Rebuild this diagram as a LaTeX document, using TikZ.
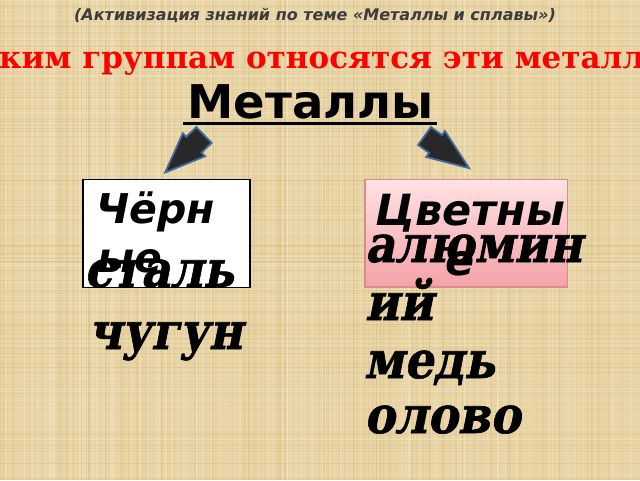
\documentclass[tikz,border=0pt]{standalone}
\usepackage{fontspec}
\setmainfont{DejaVu Serif}
\newfontfamily\dvsans{DejaVu Sans}
\newfontfamily\dvserif{DejaVu Serif}
\newfontfamily\slserif[FakeSlant=0.22,FakeBold=1.2]{DejaVu Serif Bold}
\usetikzlibrary{calc}
\definecolor{bgtan}{HTML}{E8D4A4}
\definecolor{bglight}{HTML}{F6E8C4}
\definecolor{bgdark}{HTML}{CDB27A}
\definecolor{titlegray}{HTML}{3C3C3C}
\definecolor{arrowfill}{HTML}{282828}
\definecolor{arrowedge}{HTML}{3F6C9E}
\definecolor{pinktop}{HTML}{FFE2E4}
\definecolor{pinkbot}{HTML}{F4A2A7}
\definecolor{pinkedge}{HTML}{D98C8E}
\tikzset{
  boxlabel/.style={font=\dvsans\bfseries\itshape\fontsize{41}{48}\selectfont, inner sep=0pt, anchor=base west},
  metal/.style={font=\slserif\fontsize{46}{54}\selectfont, inner sep=0pt, anchor=base west, yscale=1.12, transform shape},
  blockarrow/.style={fill=arrowfill, draw=arrowedge, line width=1.8pt, line join=miter},
}
\begin{document}
\begin{tikzpicture}[x=1pt,y=1pt]
\useasboundingbox (0,0) rectangle (640,-480);
\begin{scope}
\clip (0,0) rectangle (640,-480);
\fill[bgtan] (0,0) rectangle (640,-480);
\pgfmathsetseed{7}
\foreach \i in {1,...,220}{
  \pgfmathsetmacro\xx{rnd*640}
  \pgfmathsetmacro\op{0.15+rnd*0.35}
  \pgfmathsetmacro\lw{0.4+rnd*1.2}
  \draw[bglight, opacity=\op, line width=\lw pt] (\xx,0) -- (\xx,-480);
}
\foreach \i in {1,...,160}{
  \pgfmathsetmacro\xx{rnd*640}
  \pgfmathsetmacro\op{0.1+rnd*0.25}
  \pgfmathsetmacro\lw{0.4+rnd*1.0}
  \draw[bgdark, opacity=\op, line width=\lw pt] (\xx,0) -- (\xx,-480);
}
\foreach \i in {1,...,160}{
  \pgfmathsetmacro\yy{-rnd*480}
  \pgfmathsetmacro\op{0.1+rnd*0.25}
  \pgfmathsetmacro\lw{0.4+rnd*1.0}
  \draw[bglight, opacity=\op, line width=\lw pt] (0,\yy) -- (640,\yy);
}
\foreach \i in {1,...,120}{
  \pgfmathsetmacro\yy{-rnd*480}
  \pgfmathsetmacro\op{0.08+rnd*0.2}
  \pgfmathsetmacro\lw{0.4+rnd*0.8}
  \draw[bgdark, opacity=\op, line width=\lw pt] (0,\yy) -- (640,\yy);
}

% title
\node[font=\dvsans\bfseries\itshape\fontsize{16}{19}\selectfont, text=titlegray, inner sep=0pt, anchor=base] (title) at (315,-20.5) {(Активизация знаний по теме «Металлы и сплавы»)};
% question (cropped by the frame, as in the reference)
\node[font=\dvserif\bfseries\fontsize{31}{36}\selectfont, text=red, inner sep=0pt, anchor=base west] (question) at (-1,-68) {ким группам относятся эти металлы};
\end{scope}

% heading
\node[font=\dvsans\bfseries\fontsize{46.5}{52}\selectfont, inner sep=0pt, anchor=base] (metals) at (310.5,-118.3) {Металлы};
\draw[line width=3pt] (182.5,-123) -- (437,-123);

% arrows
\begin{scope}[shift={(204,-135)}, rotate=224]
\draw[blockarrow] (0,-11) -- (14,-11) -- (14,-16) -- (54,0) -- (14,16) -- (14,11) -- (0,11) -- cycle;
\end{scope}
\begin{scope}[shift={(424.5,-136)}, rotate=-35.8]
\draw[blockarrow] (0,-11) -- (13.6,-11) -- (13.6,-16) -- (55,0) -- (13.6,16) -- (13.6,11) -- (0,11) -- cycle;
\end{scope}

% boxes
\draw[fill=white, draw=black, line width=1.2pt] (83,-179.5) rectangle (250,-287.5);
\coordinate (blackbox) at (166.5,-233.5);
\shade[top color=pinktop, bottom color=pinkbot] (365,-179.5) rectangle (567.5,-287);
\draw[draw=pinkedge, line width=1.2pt] (365,-179.5) rectangle (567.5,-287);
\coordinate (colorbox) at (466,-233);

\node[boxlabel] (ch1) at (96,-223.5) {Чёрн};
\node[boxlabel] (ch2) at (97.5,-272) {ые};
\node[boxlabel, anchor=base, font=\dvsans\bfseries\itshape\fontsize{43}{48}\selectfont] (cv1) at (470,-225) {Цветны};
\node[boxlabel, anchor=base, font=\dvsans\bfseries\itshape\fontsize{43}{48}\selectfont] (cv2) at (460,-275) {е};

% metals
\node[metal] (m1) at (84,-287) {сталь};
\node[metal] (m2) at (88,-349) {чугун};
\node[metal] (m3) at (365,-262) {алюмин};
\node[metal] (m4) at (365,-320) {ий};
\node[metal] (m5) at (364,-378) {медь};
\node[metal] (m6) at (364,-433) {олово};
\end{tikzpicture}
\end{document}
